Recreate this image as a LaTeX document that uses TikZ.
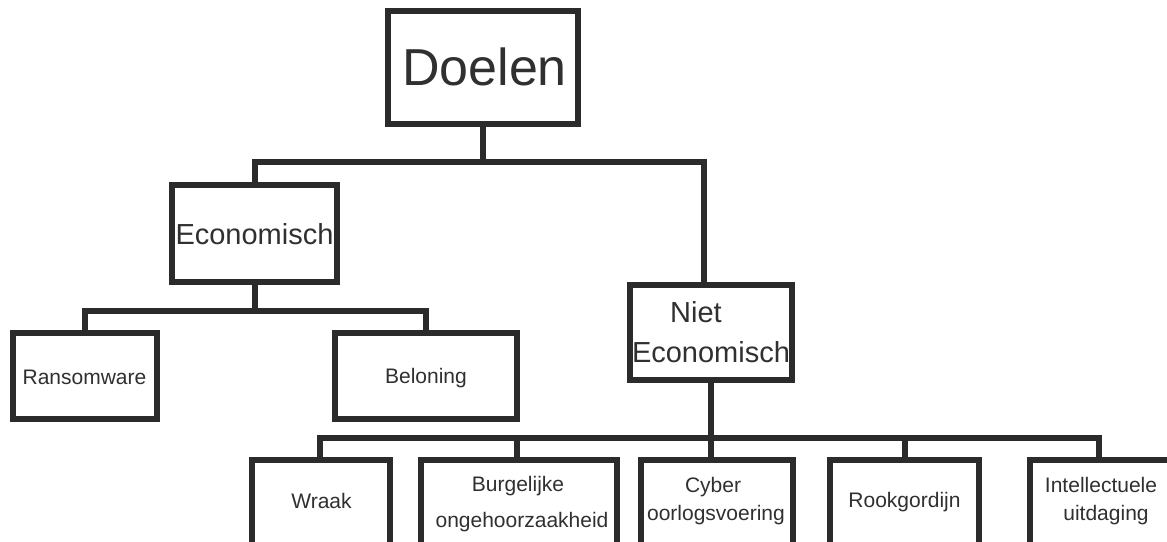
\documentclass[tikz,border=0pt]{standalone}
\usepackage{fontspec}
\setmainfont{Liberation Sans}
\definecolor{ink}{HTML}{2B2B2B}
\definecolor{txt}{HTML}{303030}
\newcommand\fsHuge{\fontsize{39}{44}\selectfont}
\newcommand\fsMid{\fontsize{21.75}{26}\selectfont}
\newcommand\fsSmall{\fontsize{15.75}{19}\selectfont}
\begin{document}
\begin{tikzpicture}[x=0.75pt,y=-0.75pt,
  box/.style={draw=ink, line width=4.5pt, rectangle, inner sep=0pt, outer sep=0pt, fill=white},
  conn/.style={draw=ink, line width=4.5pt},
  lbl/.style={text=txt, inner sep=0pt, outer sep=0pt, anchor=base}]
\useasboundingbox (0,0) rectangle (1167,542);
\clip (0,0) rectangle (1167,542);
\coordinate (bus1) at (483,162);
\coordinate (bus2) at (254.5,311);
\coordinate (bus3) at (711,438);
% boxes
\node[box, minimum width=190*0.75pt, minimum height=113*0.75pt] (doelen) at (483,67.5) {};
\node[box, minimum width=165*0.75pt, minimum height=97*0.75pt] (econ) at (254.5,233.5) {};
\node[box, minimum width=144*0.75pt, minimum height=86*0.75pt] (ransom) at (85,376) {};
\node[box, minimum width=182*0.75pt, minimum height=86*0.75pt] (belon) at (426,376) {};
\node[box, minimum width=162*0.75pt, minimum height=95*0.75pt] (niet) at (711,332.5) {};
\node[box, minimum width=138*0.75pt, minimum height=140*0.75pt] (wraak) at (321,530) {};
\node[box, minimum width=196*0.75pt, minimum height=140*0.75pt] (burg) at (519,530) {};
\node[box, minimum width=152*0.75pt, minimum height=140*0.75pt] (cyber) at (717,530) {};
\node[box, minimum width=149*0.75pt, minimum height=140*0.75pt] (rook) at (904.5,530) {};
\node[box, minimum width=144*0.75pt, minimum height=140*0.75pt] (intel) at (1102,530) {};
\coordinate (nt) at ([xshift=-5.25pt]niet.north);
\coordinate (ct) at ([xshift=-4.5pt]cyber.north);
\coordinate (wt) at ([xshift=-0.75pt]wraak.north);
\coordinate (it) at ([xshift=-2.25pt]intel.north);
\coordinate (bt) at ([xshift=-1.5pt]burg.north);
% connectors
\draw[conn] (doelen.south) -- (bus1);
\draw[conn] (econ.north) -- (econ.north |- bus1) -- (nt |- bus1) -- (nt);
\draw[conn] (econ.south) -- (bus2);
\draw[conn] (ransom.north) -- (ransom.north |- bus2) -- (belon.north |- bus2) -- (belon.north);
\draw[conn] (niet.south) -- (bus3);
\draw[conn] (wt) -- (wt |- bus3) -- (it |- bus3) -- (it);
\draw[conn] (bt) -- (bt |- bus3);
\draw[conn] (ct) -- (ct |- bus3);
\draw[conn] (rook.north) -- (rook.north |- bus3);
% labels
\node[lbl, font=\fsHuge] (tdoelen) at (484.5,85) {Doelen};
\node[lbl, font=\fsMid] (tecon) at (254.5,244) {Economisch};
\node[lbl, font=\fsSmall] (transom) at (84.5,384) {Ransomware};
\node[lbl, font=\fsSmall] (tbelon) at (426,383) {Beloning};
\node[lbl, font=\fsMid] (tniet1) at (696,322) {Niet};
\node[lbl, font=\fsMid] (tniet2) at (711,362) {Economisch};
\node[lbl, font=\fsSmall] (twraak) at (321.5,508) {Wraak};
\node[lbl, font=\fsSmall] (tburg1) at (518,491) {Burgelijke};
\node[lbl, font=\fsSmall] (tburg2) at (522,527) {ongehoorzaakheid};
\node[lbl, font=\fsSmall] (tcyber1) at (713,492) {Cyber};
\node[lbl, font=\fsSmall] (tcyber2) at (716,520) {oorlogsvoering};
\node[lbl, font=\fsSmall] (trook) at (904.5,507) {Rookgordijn};
\node[lbl, font=\fsSmall] (tintel1) at (1101,492) {Intellectuele};
\node[lbl, font=\fsSmall] (tintel2) at (1106,520) {uitdaging};
\end{tikzpicture}
\end{document}
